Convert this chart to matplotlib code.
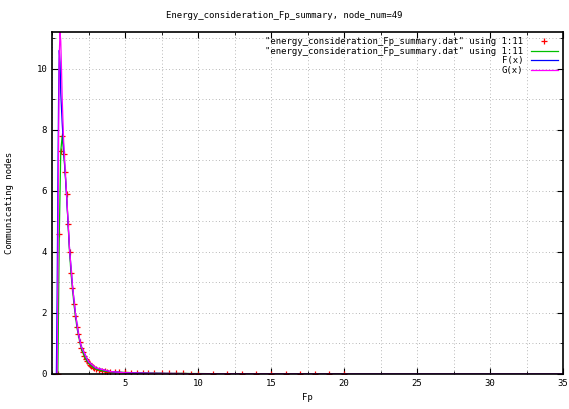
import matplotlib
matplotlib.use("Agg")
import matplotlib.pyplot as plt
from matplotlib.ticker import MultipleLocator

# -------------------------------
# Data
# -------------------------------
fp = [0.40, 0.50, 0.60, 0.70, 0.80, 0.90, 1.00, 1.10, 1.20, 1.30, 1.40, 1.50,
      1.60, 1.70, 1.80, 1.90, 2.00, 2.10, 2.20, 2.30, 2.40, 2.50, 2.60, 2.70,
      2.80, 2.90, 3.00, 3.20, 3.40, 3.60, 3.80, 4.00, 4.30, 4.60, 5.00, 5.40,
      5.80, 6.20, 6.60, 7.00, 7.50, 8.00, 8.50, 9.00, 9.50, 10.00, 11.0, 12.0,
      13.0, 14.0, 15.0, 16.0, 17.0, 18.0, 19.0, 20.0]
nodes = [0.0, 4.6, 7.3, 7.8, 7.2, 6.6, 5.9, 4.9, 4.0, 3.3, 2.8, 2.3,
         1.9, 1.55, 1.30, 1.05, 0.85, 0.72, 0.60, 0.50, 0.42, 0.36, 0.30, 0.26,
         0.22, 0.19, 0.16, 0.13, 0.11, 0.09, 0.08, 0.07, 0.06, 0.055, 0.05, 0.045,
         0.04, 0.035, 0.03, 0.03, 0.025, 0.02, 0.02, 0.02, 0.015, 0.015, 0.01, 0.01,
         0.01, 0.01, 0.01, 0.005, 0.005, 0.005, 0.005, 0.005]

fx_x = [0.30, 0.35, 0.40, 0.45, 0.50, 0.55, 0.60, 0.70, 0.80, 0.90, 1.00, 1.20,
        1.40, 1.60, 1.80, 2.00, 2.50, 3.00, 4.00, 5.00, 7.00, 10.0, 15.0, 20.0,
        25.0, 30.0, 35.0]
fx_y = [0.0, 2.5, 6.0, 9.0, 10.6, 10.2, 9.2, 8.2, 7.4, 6.6, 5.8, 4.1,
        2.9, 2.0, 1.35, 0.90, 0.40, 0.20, 0.08, 0.04, 0.02, 0.01, 0.005, 0.0,
        0.0, 0.0, 0.0]

gx_x = [0.35, 0.40, 0.45, 0.50, 0.55, 0.60, 0.65, 0.70, 0.80, 0.90, 1.00, 1.20,
        1.40, 1.60, 1.80, 2.00, 2.50, 3.00, 4.00, 5.00, 7.00, 10.0, 15.0, 20.0,
        25.0, 30.0, 35.0]
gx_y = [0.0, 3.0, 7.5, 10.5, 11.2, 10.9, 10.0, 9.0, 7.6, 6.7, 5.9, 4.1,
        2.9, 2.0, 1.35, 0.90, 0.40, 0.20, 0.08, 0.04, 0.02, 0.01, 0.005, 0.0,
        0.0, 0.0, 0.0]

label_dat = '"energy_consideration_Fp_summary.dat" using 1:11'

# -------------------------------
# Plot
# -------------------------------
plt.rcParams['font.family'] = ['DejaVu Sans Mono']
plt.rcParams['font.size'] = 6.5

fig = plt.figure(figsize=(5.69, 4.09), dpi=100)
ax = fig.add_axes([0.0914, 0.0856, 0.8981, 0.8362])

ax.plot(fp, nodes, '+', color='red', markersize=4, markeredgewidth=0.9,
        linestyle='none', label=label_dat)
ax.plot(fp, nodes, '-', color='#00c000', linewidth=0.9, label=label_dat)
ax.plot(fx_x, fx_y, '-', color='#0000ff', linewidth=0.9, label='F(x)')
ax.plot(gx_x, gx_y, '-', color='#ff00ff', linewidth=0.9, label='G(x)')

ax.set_xlim(0, 35)
ax.set_ylim(0, 11.2)
ax.set_xticks([5, 10, 15, 20, 25, 30, 35])
ax.set_yticks([0, 2, 4, 6, 8, 10])
ax.xaxis.set_minor_locator(MultipleLocator(2.5))
ax.yaxis.set_minor_locator(MultipleLocator(1))
ax.tick_params(which='both', direction='in', top=True, right=True, colors='black')
ax.tick_params(which='major', length=4, width=0.8)
ax.tick_params(which='minor', length=2, width=0.6)
ax.grid(True, which='both', linestyle=(0, (1, 3)), color='#a0a0a0', linewidth=0.6)
for s in ax.spines.values():
    s.set_linewidth(1.2)

ax.set_xlabel('Fp', labelpad=4)
ax.set_ylabel('Communicating nodes', labelpad=16)
fig.text(0.5, 0.963, 'Energy_consideration_Fp_summary, node_num=49',
         ha='center', va='center')

ax.legend(loc='upper right', frameon=False, markerfirst=False,
          handlelength=3, handletextpad=0.8, labelspacing=0.05,
          borderaxespad=0.2)

fig.savefig('out.png', dpi=100)
